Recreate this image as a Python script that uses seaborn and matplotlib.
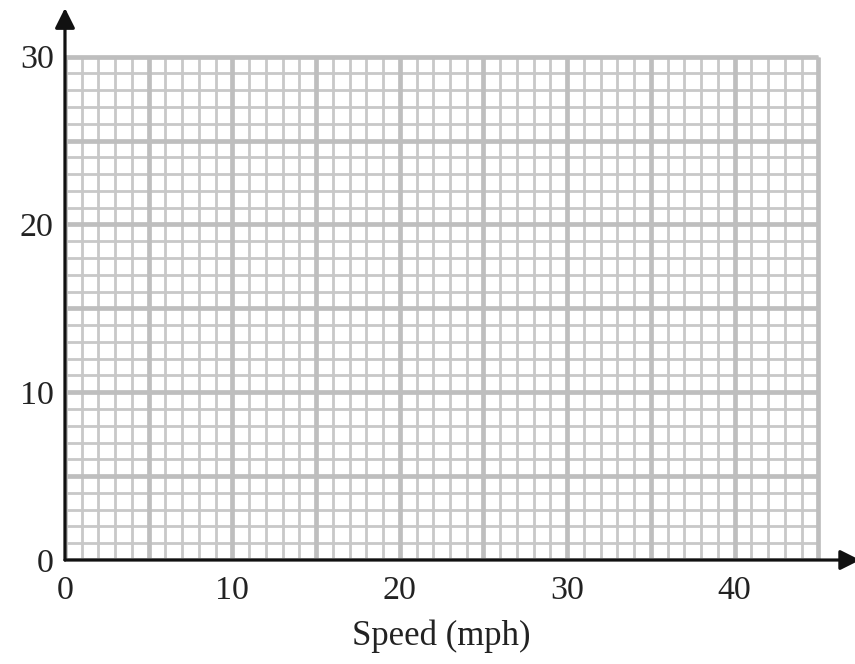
import numpy as np
import seaborn as sns
import matplotlib.pyplot as plt

# empty speed grid
x_max = 45
y_max = 30
minor_step = 1
major_step = 5
x_ticks = [0, 10, 20, 30, 40]
y_ticks = [0, 10, 20, 30]
x_label = 'Speed (mph)'

sns.set_theme(style='white')
plt.rcParams['font.family'] = ['Liberation Serif', 'DejaVu Serif']

fig = plt.figure(figsize=(8.55, 6.64), dpi=100)
ax = fig.add_axes([0.076, 0.1566, 0.930, 0.8313])
ax.set_xlim(0, 47.5)
ax.set_ylim(0, 32.9)

# grid only over the drawn area
minor_x = np.arange(0, x_max + 1, minor_step)
minor_y = np.arange(0, y_max + 1, minor_step)
major_x = np.arange(0, x_max + 1, major_step)
major_y = np.arange(0, y_max + 1, major_step)
ax.vlines(minor_x, 0, y_max, color='#c8c8c8', lw=2.0, zorder=1)
ax.hlines(minor_y, 0, x_max, color='#c8c8c8', lw=2.0, zorder=1)
ax.vlines(major_x, 0, y_max, color='#bebebe', lw=3.4, zorder=2)
ax.hlines(major_y, 0, x_max, color='#bebebe', lw=3.4, zorder=2)

# axes with arrowheads
for s in ax.spines.values():
    s.set_visible(False)
ax.annotate('', xy=(1.0, 0), xytext=(0, 0), xycoords='axes fraction',
            arrowprops=dict(arrowstyle='-|>', lw=2.3, color='#111111',
                            mutation_scale=30, shrinkA=0, shrinkB=0), zorder=5)
ax.annotate('', xy=(0, 1.0), xytext=(0, 0), xycoords='axes fraction',
            arrowprops=dict(arrowstyle='-|>', lw=2.3, color='#111111',
                            mutation_scale=30, shrinkA=0, shrinkB=0), zorder=5)

ax.set_xticks(x_ticks)
ax.set_yticks(y_ticks)
ax.tick_params(axis='x', length=0, pad=11, labelsize=24.5, labelcolor='#222222')
ax.tick_params(axis='y', length=0, pad=8, labelsize=24.5, labelcolor='#222222')

ax.set_xlabel(x_label, fontsize=25, color='#222222')
ax.xaxis.set_label_coords((x_max / 2) / 47.5, -0.107)
ax.xaxis.label.set_va('top')

fig.savefig('out.png', dpi=100)
